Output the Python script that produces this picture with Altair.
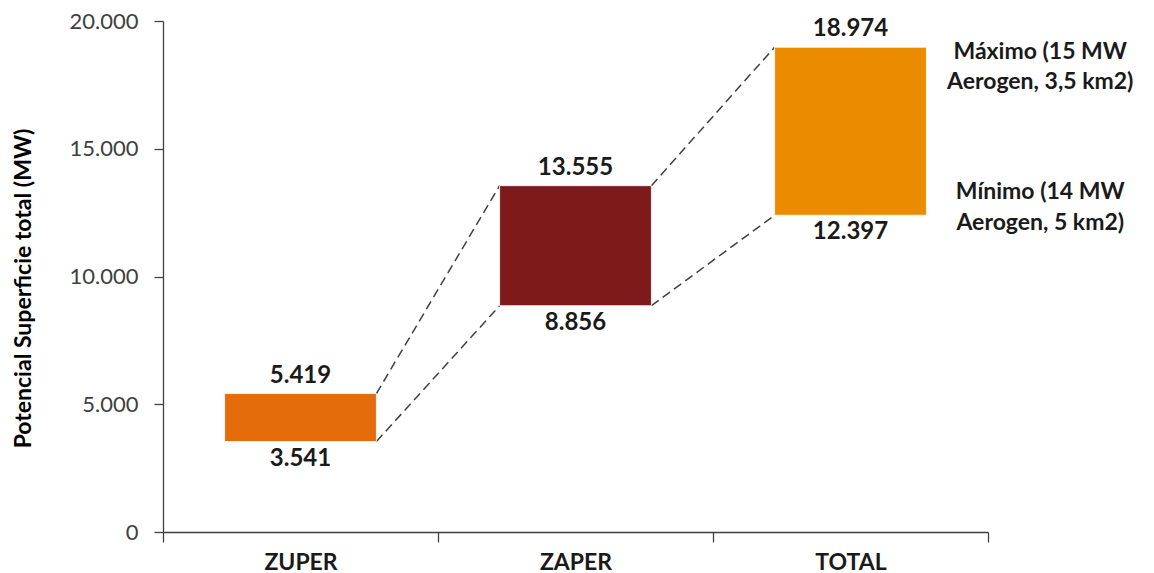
import altair as alt
import pandas as pd

categories = ["ZUPER", "ZAPER", "TOTAL"]
minimos = [3541, 8856, 12397]
maximos = [5419, 13555, 18974]
colors = ["#E46C0A", "#7F1A1B", "#EB8B00"]
min_labels = ["3.541", "8.856", "12.397"]
max_labels = ["5.419", "13.555", "18.974"]
note_max = ["Máximo (15 MW", "Aerogen, 3,5 km2)"]
note_min = ["Mínimo (14 MW", "Aerogen, 5 km2)"]
y_title = "Potencial Superficie total (MW)"

FONT = "Lato"
HALF = 0.276
W, H = 825, 511

bars = pd.DataFrame({
    "cat": categories,
    "x": [i + 0.5 - HALF for i in range(3)],
    "x2": [i + 0.5 + HALF for i in range(3)],
    "mn": minimos,
    "mx": maximos,
    "lmin": min_labels,
    "lmax": max_labels,
    "xc": [i + 0.5 for i in range(3)],
})

conn_rows = []
for i in range(2):
    for arr in (maximos, minimos):
        conn_rows.append({"x": i + 0.5 + HALF, "x2": i + 1.5 - HALF,
                          "y": arr[i], "y2": arr[i + 1]})
conn = pd.DataFrame(conn_rows)

notes = pd.DataFrame({
    "x": [3.19, 3.19],
    "y": [maximos[2], minimos[2]],
    "t": [note_max, note_min],
    "kind": ["max", "min"],
})

xq = alt.Scale(domain=[0, 3], nice=False, zero=False)
ys = alt.Scale(domain=[0, 20000], nice=False)

yaxis = alt.Axis(
    values=[0, 5000, 10000, 15000, 20000],
    labelExpr="replace(format(datum.value, ',d'), ',', '.')",
    title=y_title, titleFont=FONT, titleFontSize=23, titleFontWeight="bold",
    titleColor="#000000", titlePadding=34, titleY=267,
    labelFont=FONT, labelFontSize=22, labelColor="#404040", labelPadding=16,
    tickSize=9, tickColor="#404040", domainColor="#404040", grid=False,
    domainWidth=1.3, tickWidth=1.3,
)

axis_layer = alt.Chart(bars).mark_point(opacity=0).encode(
    x=alt.X("cat:N", sort=categories,
            scale=alt.Scale(paddingInner=0, paddingOuter=0),
            axis=alt.Axis(title=None, tickBand="extent", labelAngle=0,
                          labelFont=FONT, labelFontSize=23, labelFontWeight="bold",
                          labelColor="#1a1a1a", labelPadding=9, tickSize=10,
                          tickColor="#404040", domainColor="#404040",
                          domainWidth=1.3, tickWidth=1.3)),
    y=alt.Y("mn:Q", scale=ys, axis=yaxis),
)

bar_layer = alt.Chart(bars).mark_bar(stroke="white", strokeWidth=0.8).encode(
    x=alt.X("x:Q", scale=xq, axis=None),
    x2="x2:Q",
    y=alt.Y("mn:Q", scale=ys, axis=yaxis),
    y2="mx:Q",
    color=alt.Color("cat:N", scale=alt.Scale(domain=categories, range=colors), legend=None),
)

conn_layer = alt.Chart(conn).mark_rule(color="#404040", strokeDash=[9, 5], strokeWidth=1.5).encode(
    x=alt.X("x:Q", scale=xq, axis=None),
    x2="x2:Q",
    y=alt.Y("y:Q", scale=ys),
    y2="y2:Q",
)

top_text = alt.Chart(bars).mark_text(font=FONT, fontSize=24, fontWeight="bold",
                                     color="#1a1a1a", baseline="alphabetic", dy=-11).encode(
    x=alt.X("xc:Q", scale=xq, axis=None),
    y=alt.Y("mx:Q", scale=ys),
    text="lmax:N",
)

bot_text = alt.Chart(bars).mark_text(font=FONT, fontSize=24, fontWeight="bold",
                                     color="#1a1a1a", baseline="alphabetic", dy=24).encode(
    x=alt.X("xc:Q", scale=xq, axis=None),
    y=alt.Y("mn:Q", scale=ys),
    text="lmin:N",
)

note_max_layer = alt.Chart(notes[notes.kind == "max"]).mark_text(
    font=FONT, fontSize=23, fontWeight="bold", color="#1a1a1a",
    align="center", baseline="middle", lineHeight=30, dy=5).encode(
    x=alt.X("x:Q", scale=xq, axis=None),
    y=alt.Y("y:Q", scale=ys),
    text="t",
)

note_min_layer = alt.Chart(notes[notes.kind == "min"]).mark_text(
    font=FONT, fontSize=23, fontWeight="bold", color="#1a1a1a",
    align="center", baseline="middle", lineHeight=31, dy=-23).encode(
    x=alt.X("x:Q", scale=xq, axis=None),
    y=alt.Y("y:Q", scale=ys),
    text="t",
)

chart = alt.layer(
    axis_layer, conn_layer, bar_layer, top_text, bot_text, note_max_layer, note_min_layer
).resolve_scale(x="independent").properties(
    width=W, height=H,
    background="white",
    autosize=alt.AutoSizeParams(type="none"),
    padding={"left": 163, "top": 21, "right": 1154 - 163 - W, "bottom": 573 - 21 - H},
).configure_view(stroke=None)

chart.save("out.html", embed_options={"renderer": "svg", "actions": False})
